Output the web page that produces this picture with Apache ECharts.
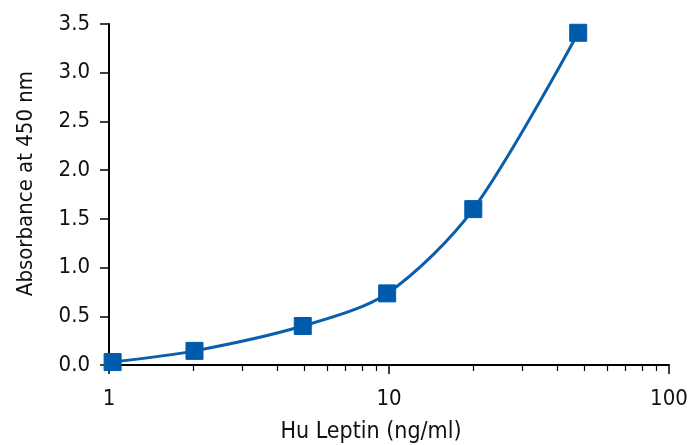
<!DOCTYPE html>
<html>
<head>
<meta charset="utf-8">
<script src="https://cdn.jsdelivr.net/npm/echarts@6/dist/echarts.min.js"></script>
<style>
html,body{margin:0;padding:0;background:#fff;}
#chart{width:691px;height:445px;}
</style>
</head>
<body>
<div id="chart"></div>
<script>
// Data
const concentration = [1.03, 2.02, 4.92, 9.85, 20.0, 47.4];
const absorbance = [0.03, 0.145, 0.40, 0.735, 1.60, 3.41];
const xMajorTicks = [1, 10, 100];
const xMinorTicks = [2, 3, 4, 5, 6, 7, 8, 9, 20, 30, 40, 50, 60, 70, 80, 90];
const xTitle = 'Hu Leptin (ng/ml)';
const yTitle = 'Absorbance at 450 nm';

const FONT = '"DejaVu Sans Condensed", "Liberation Sans", sans-serif';
const chart = echarts.init(document.getElementById('chart'), null, {renderer: 'canvas'});
const axisCommon = {
  type: 'log', logBase: 10, min: 1, max: 100
};
chart.setOption({
  animation: false,
  backgroundColor: '#fff',
  grid: {left: 109, right: 22, top: 24, bottom: 80, containLabel: false, outerBoundsMode: 'none'},
  xAxis: [
    Object.assign({}, axisCommon, {
      position: 'bottom',
      name: xTitle,
      nameLocation: 'middle',
      nameGap: 56,
      nameTextStyle: {fontFamily: FONT, fontSize: 23, color: '#111', padding: [0, 36, 0, 0]},
      axisLine: {show: true, lineStyle: {color: '#000', width: 2}},
      axisTick: {show: true, inside: false, length: 9, lineStyle: {color: '#000', width: 1.5}, customValues: xMajorTicks},
      axisLabel: {fontFamily: FONT, fontSize: 22, color: '#111', margin: 23, customValues: xMajorTicks,
        formatter: v => String(Math.round(v))},
      splitLine: {show: false},
      minorTick: {show: false}
    }),
    Object.assign({}, axisCommon, {
      position: 'bottom',
      axisLine: {show: false},
      axisTick: {show: true, inside: false, length: 6, lineStyle: {color: '#000', width: 1.2}, customValues: xMinorTicks},
      axisLabel: {show: false},
      splitLine: {show: false}
    })
  ],
  yAxis: {
    type: 'value', min: 0, max: 3.5, interval: 0.5,
    name: yTitle,
    nameLocation: 'middle',
    nameGap: 72,
    nameTextStyle: {fontFamily: FONT, fontSize: 22, color: '#111', padding: [0, 0, 0, 22]},
    axisLine: {show: true, lineStyle: {color: '#000', width: 2}},
    axisTick: {show: true, inside: false, length: 9, lineStyle: {color: '#000', width: 1.5}},
    axisLabel: {fontFamily: FONT, fontSize: 22, color: '#111', margin: 19, formatter: v => v.toFixed(1), padding: [4, 0, 0, 0]},
    splitLine: {show: false}
  },
  series: [{
    type: 'line',
    xAxisIndex: 0,
    data: concentration.map((c, i) => [c, absorbance[i]]),
    smooth: 0.3,
    symbol: 'rect',
    symbolSize: 17,
    lineStyle: {color: '#0b5ead', width: 3},
    itemStyle: {color: '#005bac', borderColor: '#005bac'},
    z: 3
  }]
});
</script>
</body>
</html>
